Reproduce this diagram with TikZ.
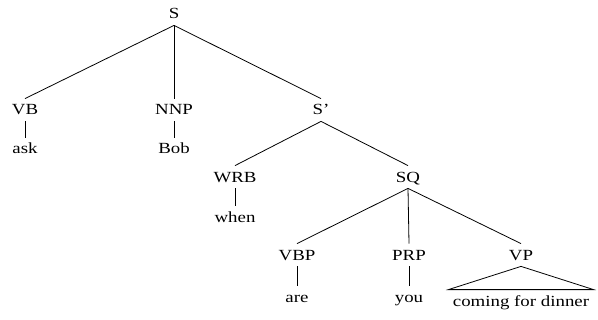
\documentclass[tikz,border=0pt]{standalone}
\usepackage{fontspec}
\setmainfont[FakeStretch=1.22]{Liberation Serif}
\begin{document}
\begin{tikzpicture}[x=0.75pt,y=-0.75pt,line width=0.6pt,
  tag/.style={anchor=base,inner xsep=1pt,inner ysep=4.5pt,text height=7.5pt,text depth=0pt,font=\fontsize{11.6}{13}\selectfont}]
\useasboundingbox (0,0) rectangle (598,320);

\node[tag] (S) at (174,19) {S};
\node[tag] (VB) at (25,115) {VB};
\node[tag] (NNP) at (174,115) {NNP};
\node[tag] (S1) at (321,115) {S'};
\node[tag] (ask) at (25,154) {ask};
\node[tag] (Bob) at (174,154) {Bob};
\node[tag] (WRB) at (235,182) {WRB};
\node[tag] (SQ) at (408,182) {SQ};
\node[tag] (when) at (235,222) {when};
\node[tag] (VBP) at (297,260) {VBP};
\node[tag] (PRP) at (409,260) {PRP};
\node[tag] (VP) at (521,260) {VP};
\node[tag] (are) at (297,302) {are};
\node[tag] (you) at (409,302) {you};
\node[tag,inner xsep=3pt] (cfd) at (521,306) {coming for dinner};

\draw (S.south)--(VB.north);
\draw (S.south)--(NNP.north);
\draw (S.south)--(S1.north);
\draw (VB.south)--(ask.north);
\draw (NNP.south)--(Bob.north);
\draw (S1.south)--(WRB.north);
\draw (S1.south)--(SQ.north);
\draw (WRB.south)--(when.north);
\draw (SQ.south)--(VBP.north);
\draw (SQ.south)--(PRP.north);
\draw (SQ.south)--(VP.north);
\draw (VBP.south)--(are.north);
\draw (PRP.south)--(you.north);
\draw (VP.south)--(cfd.north east)--(cfd.north west)--cycle;

\end{tikzpicture}
\end{document}
